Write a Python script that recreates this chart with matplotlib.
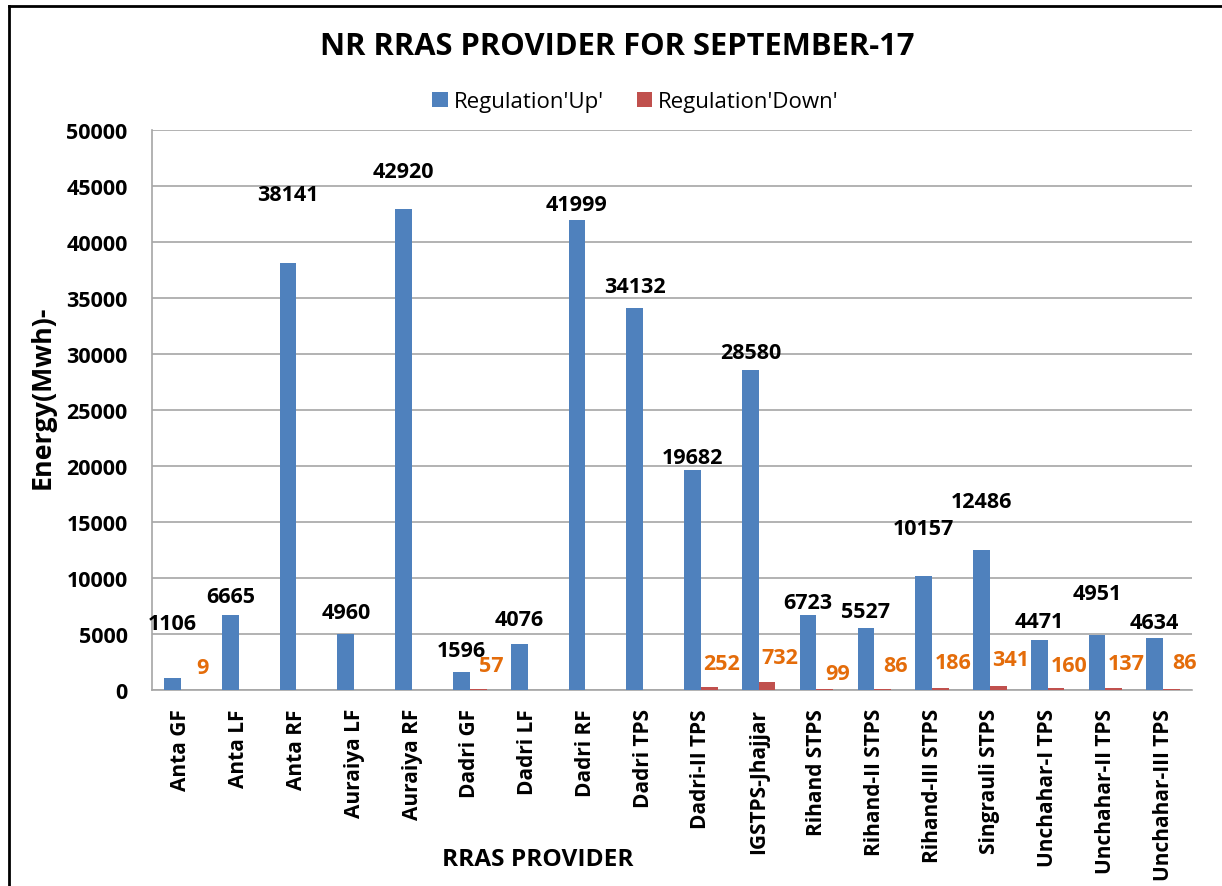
import numpy as np
import matplotlib
matplotlib.use("Agg")
import matplotlib.pyplot as plt
from matplotlib.lines import Line2D

plt.rcParams['font.family'] = ['Open Sans', 'DejaVu Sans']

providers = ["Anta GF", "Anta LF", "Anta RF", "Auraiya LF", "Auraiya RF", "Dadri GF",
             "Dadri LF", "Dadri RF", "Dadri TPS", "Dadri-II TPS", "IGSTPS-Jhajjar",
             "Rihand STPS", "Rihand-II STPS", "Rihand-III STPS", "Singrauli STPS",
             "Unchahar-I TPS", "Unchahar-II TPS", "Unchahar-III TPS"]
reg_up = [1106, 6665, 38141, 4960, 42920, 1596, 4076, 41999, 34132, 19682, 28580,
          6723, 5527, 10157, 12486, 4471, 4951, 4634]
reg_down = [9, 0, 0, 0, 0, 57, 0, 0, 0, 252, 732, 99, 86, 186, 341, 160, 137, 86]

# label offsets above the bar top (pixels), hand-placed like the original
up_off = [54, 19, 68, 22, 38, 22, 25, 15, 21, 12, 17, 12, 17, 48, 49, 18, 41, 16]
down_off = [22, 0, 0, 0, 0, 24, 0, 0, 0, 24, 24, 15, 24, 25, 27, 23, 25, 27]

blue = "#4F81BD"
red = "#C0504D"
orange = "#E46C0A"

fig = plt.figure(figsize=(12.22, 8.87), dpi=100)
ax = fig.add_axes([0.1244, 0.2210, 0.8511, 0.6313])

x = np.arange(len(providers))
w = 0.29
ax.bar(x - w / 2, reg_up, w, color=blue, label="Regulation'Up'", zorder=3)
ax.bar(x + w / 2, reg_down, w, color=red, label="Regulation'Down'", zorder=3)

for i, v in enumerate(reg_up):
    ax.annotate(str(v), (x[i] - w / 2, v), xytext=(0, up_off[i]), textcoords="offset pixels",
                ha="center", va="center", fontsize=15.5, fontweight="bold", color="black")
for i, v in enumerate(reg_down):
    if v > 0:
        ax.annotate(str(v), (x[i] + w / 2 + 0.22, v), xytext=(0, down_off[i]),
                    textcoords="offset pixels", ha="center", va="center",
                    fontsize=15.5, fontweight="bold", color=orange)

ax.set_xlim(-0.5, len(providers) - 0.5)
ax.set_ylim(0, 50000)
ax.set_yticks(np.arange(0, 50001, 5000))
ax.yaxis.grid(True, color="#A6A6A6", linewidth=1.2, zorder=0)
ax.set_axisbelow(True)
ax.tick_params(axis="y", length=0, labelsize=15.5, pad=17.5)
ax.tick_params(axis="x", length=0, labelsize=15, pad=13)
for lab in ax.get_yticklabels():
    lab.set_fontweight("bold")
ax.set_xticks(x)
ax.set_xticklabels(providers, rotation=90, fontweight="bold")

for s in ["top", "right"]:
    ax.spines[s].set_visible(False)
for s in ["left", "bottom"]:
    ax.spines[s].set_color("#A6A6A6")
    ax.spines[s].set_linewidth(1.2)

fig.text(0.505, 0.947, "NR RRAS PROVIDER FOR SEPTEMBER-17", ha="center", va="center",
         fontsize=22.2, fontweight="bold")
fig.text(0.035, 0.552, "Energy(Mwh)-", rotation=90, ha="center", va="center",
         fontsize=19.3, fontweight="bold")
fig.text(0.44, 0.030, "RRAS PROVIDER", ha="center", va="center",
         fontsize=17.6, fontweight="bold")

fig.legend(loc="center", bbox_to_anchor=(0.52, 0.884), ncol=2, frameon=False,
           fontsize=16, handlelength=0.7, handleheight=0.7, columnspacing=1.5,
           handletextpad=0.25)

# chart border (left and top edges visible)
fig.add_artist(Line2D([0.0072, 0.0072], [0, 0.992], transform=fig.transFigure,
                      color="black", linewidth=2))
fig.add_artist(Line2D([0.0072, 1], [0.992, 0.992], transform=fig.transFigure,
                      color="black", linewidth=2))

fig.savefig("out.png", dpi=100)
